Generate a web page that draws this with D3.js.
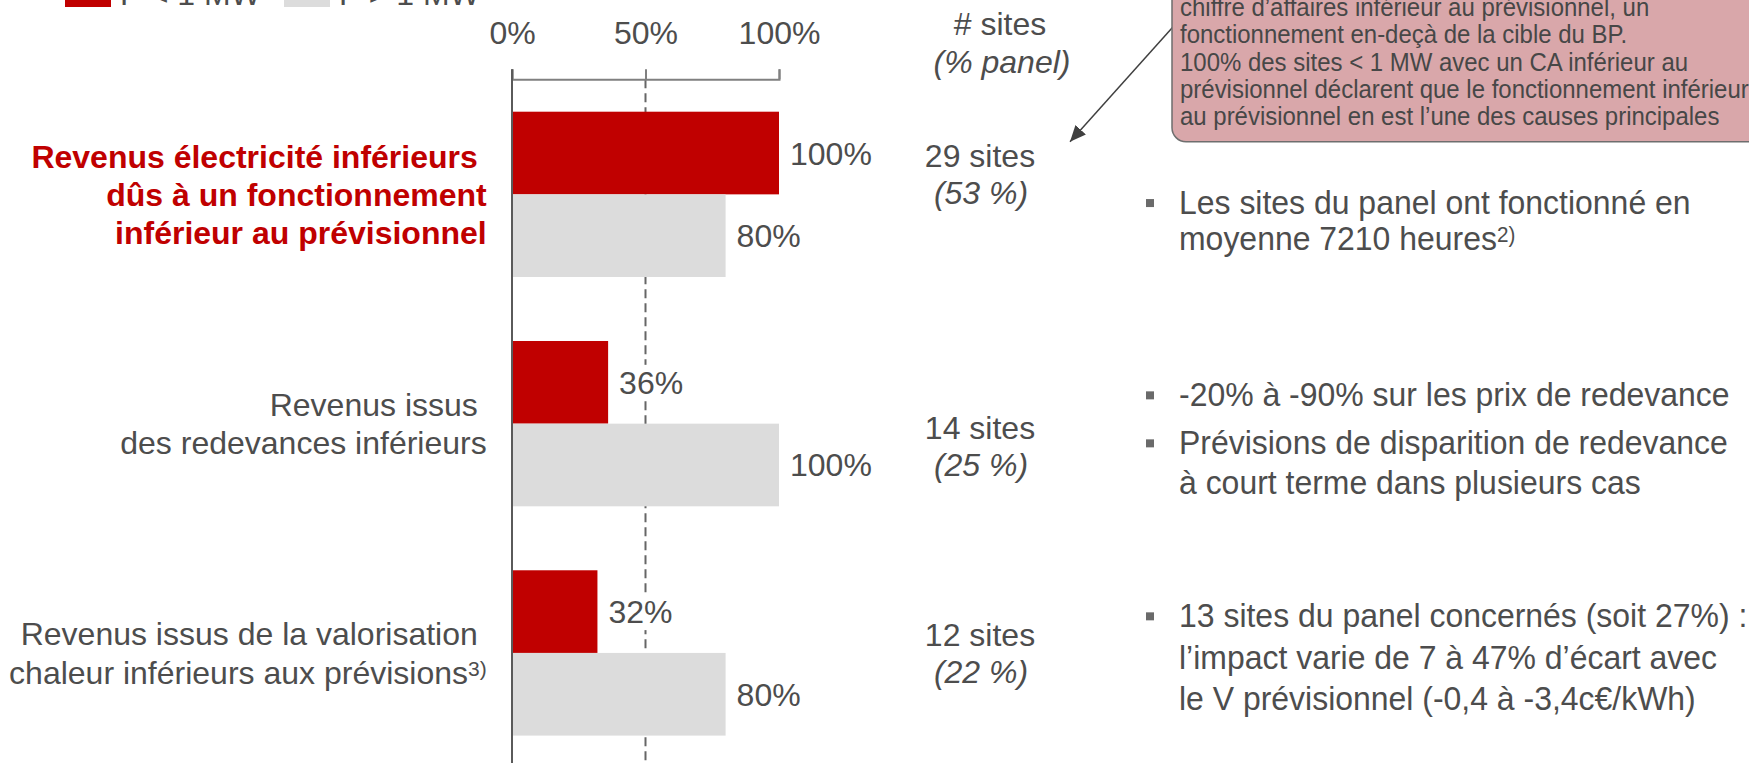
<!DOCTYPE html>
<html>
<head>
<meta charset="utf-8">
<script src="https://cdn.jsdelivr.net/npm/d3@7"></script>
<style>
  html, body { margin: 0; padding: 0; background: #fff; overflow: hidden; }
  svg { display: block; font-family: Arial, "Liberation Sans", sans-serif; }
  text { white-space: pre; }
</style>
</head>
<body>
<svg id="chart" width="1749" height="763"></svg>
<script>
// ---- data -------------------------------------------------------------
const categories = ["electricite", "redevances", "chaleur"];
const series = ["P < 1 MW", "P > 1 MW"];
const shareSmall = [1.00, 0.36, 0.32];   // P < 1 MW
const shareLarge = [0.80, 1.00, 0.80];   // P > 1 MW
const axisTicks = [0, 0.5, 1];

// "^" separates a line from its footnote call
const categoryLabels = [
  ["Revenus électricité inférieurs ", "dûs à un fonctionnement", "inférieur au prévisionnel"],
  ["Revenus issus ", "des redevances inférieurs"],
  ["Revenus issus de la valorisation ", "chaleur inférieurs aux prévisions^3)"]
];
const highlightedCategory = "electricite";

const siteCounts = [29, 14, 12];
const panelShares = [53, 25, 22];

const comments = [
  [["Les sites du panel ont fonctionné en", "moyenne 7210 heures^2)"]],
  [["-20% à -90% sur les prix de redevance"],
   ["Prévisions de disparition de redevance", "à court terme dans plusieurs cas"]],
  [["13 sites du panel concernés (soit 27%) :", "l’impact varie de 7 à 47% d’écart avec", "le V prévisionnel (-0,4 à -3,4c€/kWh)"]]
];

const calloutLines = [
  "chiffre d’affaires inférieur au prévisionnel, un",
  "fonctionnement en-deçà de la cible du BP.",
  "100% des sites < 1 MW avec un CA inférieur au",
  "prévisionnel déclarent que le fonctionnement inférieur",
  "au prévisionnel en est l’une des causes principales"
];

// ---- layout -----------------------------------------------------------
const W = 1749, H = 763;
const TEXT = "#4D4D4D";
const RED = "#C00000", GREY = "#DCDCDC";
const axisY = 79.3;

const svg = d3.select("#chart");
const defs = svg.append("defs");

const x = d3.scaleLinear().domain([0, 1]).range([512, 779]);
const y = d3.scaleBand().domain(categories).range([111.7, 735.6])
  .paddingInner(0.279).paddingOuter(0);
const ySub = d3.scaleBand().domain(series).range([0, y.bandwidth()]);
const color = d3.scaleOrdinal().domain(series).range([RED, GREY]);

const rows = categories.map((c, i) => ({
  cat: c,
  values: [
    { s: series[0], v: shareSmall[i] },
    { s: series[1], v: shareLarge[i] }
  ]
}));

// helper: write a line that may carry a superscript footnote call
function writeLine(sel, line, supSize) {
  const [main, sup] = line.split("^");
  sel.append("tspan").text(main);
  if (sup) sel.append("tspan").attr("dy", -8).attr("font-size", supSize).text(sup);
}

// ---- legend (top edge) ------------------------------------------------
const legendX = [65, 284];
const legend = svg.append("g").selectAll("g").data(series).join("g");
legend.append("rect")
  .attr("x", (d, i) => legendX[i]).attr("y", -23)
  .attr("width", 46).attr("height", 30)
  .attr("fill", d => color(d));
legend.append("text")
  .attr("x", (d, i) => legendX[i] + 55).attr("y", 4.5)
  .attr("font-size", 32).attr("fill", TEXT)
  .text(d => d);

// ---- 50 % reference line ---------------------------------------------
svg.append("line")
  .attr("x1", x(0.5)).attr("x2", x(0.5))
  .attr("y1", axisY).attr("y2", H)
  .attr("stroke", "#666").attr("stroke-width", 2)
  .attr("stroke-dasharray", "9 5");

// ---- top axis ---------------------------------------------------------
const axis = svg.append("g")
  .attr("transform", `translate(0,${axisY})`)
  .call(d3.axisTop(x).tickValues(axisTicks).tickFormat(d3.format(".0%"))
    .tickSizeInner(10).tickSizeOuter(10).tickPadding(25));
axis.select(".domain").attr("stroke", "#808080").attr("stroke-width", 2);
axis.selectAll(".tick line").attr("stroke", "#808080").attr("stroke-width", 2);
axis.selectAll(".tick text")
  .attr("font-size", 32).attr("font-family", "Arial, 'Liberation Sans', sans-serif")
  .attr("fill", TEXT);

// ---- bars -------------------------------------------------------------
const groups = svg.append("g").selectAll("g").data(rows).join("g")
  .attr("transform", d => `translate(0,${y(d.cat)})`);

groups.selectAll("rect").data(d => d.values).join("rect")
  .attr("x", x(0))
  .attr("y", d => ySub(d.s))
  .attr("width", d => x(d.v) - x(0))
  .attr("height", ySub.bandwidth())
  .attr("fill", d => color(d.s));

// value labels with a white backing so the dashed line stops behind them
const valueLabels = groups.selectAll("g.val").data(d => d.values).join("g").attr("class", "val");
valueLabels.append("text")
  .attr("x", d => x(d.v) + 11)
  .attr("y", d => ySub(d.s) + ySub.bandwidth() / 2 + 11.5)
  .attr("font-size", 32).attr("fill", TEXT)
  .text(d => d3.format(".0%")(d.v));
valueLabels.each(function () {
  const g = d3.select(this);
  const b = g.select("text").node().getBBox();
  g.insert("rect", "text")
    .attr("x", b.x - 2).attr("y", b.y).attr("width", b.width + 4).attr("height", b.height)
    .attr("fill", "#fff");
});

// vertical baseline axis
svg.append("line")
  .attr("x1", x(0)).attr("x2", x(0))
  .attr("y1", axisY - 10).attr("y2", H)
  .attr("stroke", "#5A5A5A").attr("stroke-width", 2);

// ---- category labels ---------------------------------------------------
const lineStep = 38.3;
categories.forEach((c, i) => {
  const lines = categoryLabels[i];
  const center = y(c) + y.bandwidth() / 2;
  const first = center - (lines.length - 1) / 2 * lineStep + 11.5;
  const hi = c === highlightedCategory;
  lines.forEach((ln, k) => {
    const t = svg.append("text")
      .attr("x", 486.7).attr("y", first + k * lineStep)
      .attr("text-anchor", "end")
      .attr("font-size", 32)
      .attr("font-weight", hi ? "bold" : "normal")
      .attr("fill", hi ? RED : TEXT);
    writeLine(t, ln, 21);
  });
});

// ---- "# sites" column --------------------------------------------------
svg.append("text").attr("x", 1000).attr("y", 35).attr("text-anchor", "middle")
  .attr("font-size", 32).attr("fill", TEXT).text("# sites");
svg.append("text").attr("x", 1002).attr("y", 73).attr("text-anchor", "middle")
  .attr("font-size", 32).attr("font-style", "italic").attr("fill", TEXT).text("(% panel)");

const siteShift = [-27.6, 15.7, -6.9];
categories.forEach((c, i) => {
  const base = y(c) + y.bandwidth() / 2 + siteShift[i];
  svg.append("text").attr("x", 980).attr("y", base).attr("text-anchor", "middle")
    .attr("font-size", 32).attr("fill", TEXT).text(`${siteCounts[i]} sites`);
  svg.append("text").attr("x", 981).attr("y", base + 37).attr("text-anchor", "middle")
    .attr("font-size", 32).attr("font-style", "italic").attr("fill", TEXT)
    .text(`(${panelShares[i]} %)`);
});

// ---- comment bullets (slightly condensed text) ---------------------------
const commentShift = [19.7, -17.3, -25.6];
const bulletStep = [36, 40, 41.3];
const paraGap = 48;
categories.forEach((c, i) => {
  let yy = y(c) + y.bandwidth() / 2 + commentShift[i];
  comments[i].forEach((para, p) => {
    if (p > 0) yy += paraGap - bulletStep[i];
    svg.append("rect")
      .attr("x", 1146).attr("y", yy - 15).attr("width", 8).attr("height", 8)
      .attr("fill", "#6A6A6A");
    para.forEach((ln) => {
      const t = svg.append("text")
        .attr("transform", `translate(1179,${yy}) scale(0.94,1)`)
        .attr("font-size", 34).attr("fill", TEXT);
      writeLine(t, ln, 22);
      yy += bulletStep[i];
    });
  });
});

// ---- callout with arrow ------------------------------------------------
defs.append("marker")
  .attr("id", "arrowhead")
  .attr("viewBox", "0 0 16 14").attr("refX", 16).attr("refY", 7)
  .attr("markerWidth", 16).attr("markerHeight", 14)
  .attr("markerUnits", "userSpaceOnUse").attr("orient", "auto")
  .append("path").attr("d", "M0,0L16,7L0,14Z").attr("fill", "#404040");

svg.append("line")
  .attr("x1", 1185).attr("y1", 13.5)
  .attr("x2", 1070).attr("y2", 141.7)
  .attr("stroke", "#404040").attr("stroke-width", 1.5)
  .attr("marker-end", "url(#arrowhead)");

svg.append("rect")
  .attr("x", 1172).attr("y", -40).attr("width", 620).attr("height", 181.7)
  .attr("rx", 14).attr("ry", 14)
  .attr("fill", "#D9A7AA").attr("stroke", "#6E6E6E").attr("stroke-width", 1.5);

svg.append("g").selectAll("text").data(calloutLines).join("text")
  .attr("transform", (d, i) => `translate(1180,${16 + i * 27.3}) scale(0.94,1)`)
  .attr("font-size", 25.5).attr("fill", "#474747")
  .text(d => d);
</script>
</body>
</html>
